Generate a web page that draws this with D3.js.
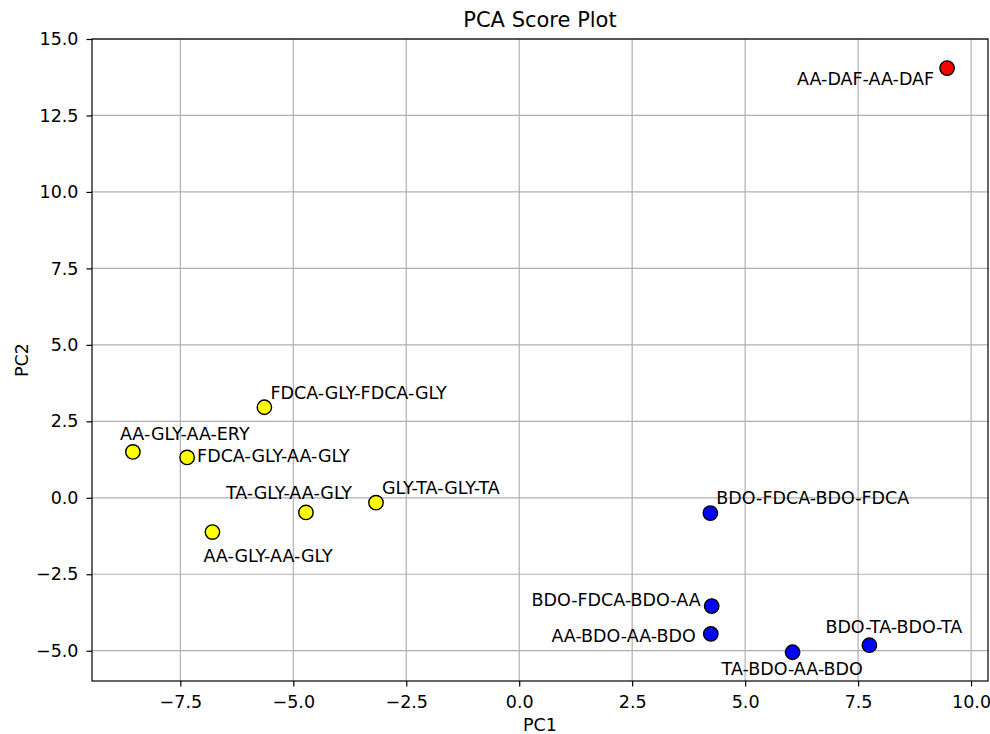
<!DOCTYPE html>
<html>
<head>
<meta charset="utf-8">
<script src="https://cdn.jsdelivr.net/npm/d3@7"></script>
<style>
  body { margin: 0; background: #fff; }
  text { font-family: "DejaVu Sans", sans-serif; fill: #000; }
  .axis text { font-size: 17.5px; }
  .grid line { stroke: #b0b0b0; stroke-width: 1.2px; }
</style>
</head>
<body>
<div id="chart"></div>
<script>
// sample names, PCA scores and group colour
var names = ["AA-DAF-AA-DAF", "AA-GLY-AA-ERY", "FDCA-GLY-AA-GLY", "FDCA-GLY-FDCA-GLY",
  "AA-GLY-AA-GLY", "TA-GLY-AA-GLY", "GLY-TA-GLY-TA", "BDO-FDCA-BDO-FDCA",
  "BDO-FDCA-BDO-AA", "AA-BDO-AA-BDO", "TA-BDO-AA-BDO", "BDO-TA-BDO-TA"];
var pc1 = [9.47, -8.55, -7.35, -5.64, -6.79, -4.72, -3.17, 4.23, 4.26, 4.24, 6.05, 7.75];
var pc2 = [14.05, 1.50, 1.32, 2.96, -1.12, -0.48, -0.16, -0.50, -3.54, -4.45, -5.05, -4.82];
var colors = ["red", "yellow", "yellow", "yellow", "yellow", "yellow", "yellow",
  "blue", "blue", "blue", "blue", "blue"];

var xTicks = [-7.5, -5.0, -2.5, 0.0, 2.5, 5.0, 7.5, 10.0];
var yTicks = [-5.0, -2.5, 0.0, 2.5, 5.0, 7.5, 10.0, 12.5, 15.0];

// label placement relative to the point (px): dx, dy, anchor
var labelPos = [
  [-13, 11, "end"], [-13, -18, "start"], [10, -2, "start"], [6, -14, "start"],
  [-9, 24, "start"], [-80, -20, "start"], [6, -15, "start"], [6, -15, "start"],
  [-11, -6, "end"], [-15, 2, "end"], [-71, 17, "start"], [-44, -18, "start"]
];

var margin = {top: 39, right: 2, bottom: 53, left: 92},
    width = 990 - margin.left - margin.right,
    height = 734 - margin.top - margin.bottom;

var x = d3.scaleLinear().domain([-9.455, 10.375]).range([0, width]);
var y = d3.scaleLinear().domain([-5.99, 15]).range([height, 0]);

var svg = d3.select("#chart").append("svg")
    .attr("width", 990)
    .attr("height", 734)
    .append("g")
    .attr("transform", "translate(" + margin.left + "," + margin.top + ")");

// grid
svg.append("g").attr("class", "grid")
    .selectAll("line").data(xTicks).join("line")
    .attr("x1", d => x(d)).attr("x2", d => x(d))
    .attr("y1", 0).attr("y2", height);
svg.append("g").attr("class", "grid")
    .selectAll("line").data(yTicks).join("line")
    .attr("x1", 0).attr("x2", width)
    .attr("y1", d => y(d)).attr("y2", d => y(d));

var fmt = d => d3.format(".1f")(d).replace("-", "\u2212");

var xAxis = svg.append("g")
    .attr("class", "axis")
    .attr("transform", "translate(0," + height + ")")
    .call(d3.axisBottom(x).tickValues(xTicks).tickFormat(fmt).tickSize(5.5).tickPadding(9));
var yAxis = svg.append("g")
    .attr("class", "axis")
    .call(d3.axisLeft(y).tickValues(yTicks).tickFormat(fmt).tickSize(5.5).tickPadding(8));
[xAxis, yAxis].forEach(function(a) {
  a.select(".domain").remove();
  a.selectAll("line").attr("stroke", "#000").attr("stroke-width", 1.2);
  a.selectAll("text").attr("fill", "#000");
});

// frame
svg.append("rect")
    .attr("width", width).attr("height", height)
    .attr("fill", "none").attr("stroke", "#000").attr("stroke-width", 1.2);

var idx = d3.range(names.length);

svg.append("g").selectAll("circle").data(idx).join("circle")
    .attr("cx", i => x(pc1[i]))
    .attr("cy", i => y(pc2[i]))
    .attr("r", 7.2)
    .attr("fill", i => colors[i])
    .attr("stroke", "#000")
    .attr("stroke-width", 1.4);

svg.append("g").selectAll("text").data(idx).join("text")
    .attr("x", i => x(pc1[i]) + labelPos[i][0])
    .attr("y", i => y(pc2[i]) + labelPos[i][1])
    .attr("dy", "0.35em")
    .attr("text-anchor", i => labelPos[i][2])
    .style("font-size", "17.5px")
    .text(i => names[i]);

// titles
svg.append("text")
    .attr("x", width / 2).attr("y", -19)
    .attr("dy", "0.35em")
    .attr("text-anchor", "middle")
    .style("font-size", "21px")
    .text("PCA Score Plot");

svg.append("text")
    .attr("x", width / 2).attr("y", height + 43.5)
    .attr("dy", "0.35em")
    .attr("text-anchor", "middle")
    .style("font-size", "17.5px")
    .text("PC1");

svg.append("text")
    .attr("transform", "translate(" + (-70) + "," + (height / 2) + ") rotate(-90)")
    .attr("dy", "0.35em")
    .attr("text-anchor", "middle")
    .style("font-size", "17.5px")
    .text("PC2");
</script>
</body>
</html>
